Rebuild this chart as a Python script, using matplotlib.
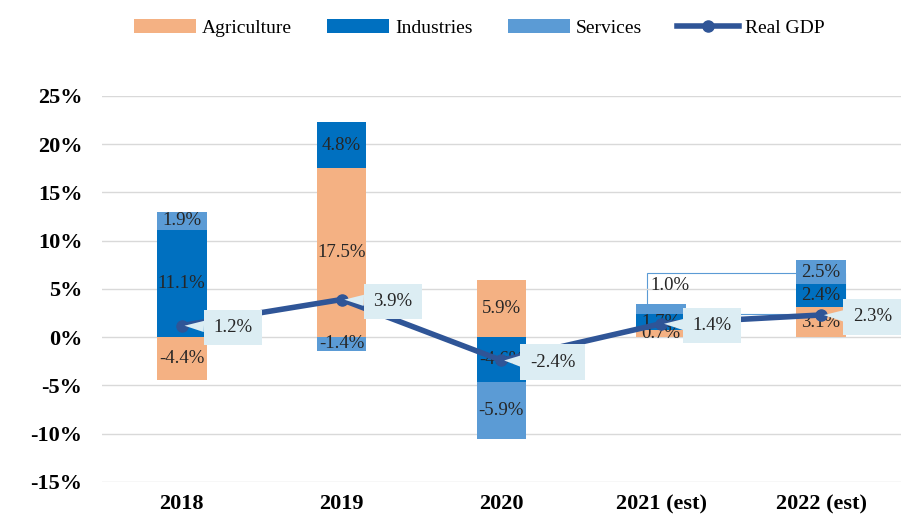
import matplotlib.pyplot as plt
import numpy as np
from matplotlib.patches import Rectangle

# Growth contributions by sector (%)
years = ['2018', '2019', '2020', '2021 (est)', '2022 (est)']
agriculture = [-4.4, 17.5, 5.9, 0.7, 3.1]
industries = [11.1, 4.8, -4.6, 1.7, 2.4]
services = [1.9, -1.4, -5.9, 1.0, 2.5]
real_gdp = [1.2, 3.9, -2.4, 1.4, 2.3]

plt.rcParams['font.family'] = ['Liberation Serif', 'DejaVu Serif']

fig = plt.figure(figsize=(9.01, 5.18), dpi=100)
ax = fig.add_axes([0.113, 0.0695, 0.887, 0.7455])

x = np.arange(len(years))
w = 0.31
series = [
    ('Agriculture', agriculture, '#f4b183'),
    ('Industries', industries, '#0070c0'),
    ('Services', services, '#5b9bd5'),
]

pos = np.zeros(len(years))
neg = np.zeros(len(years))
for name, vals, col in series:
    vals = np.array(vals)
    bottom = np.where(vals >= 0, pos, neg)
    ax.bar(x, vals, w, bottom=bottom, color=col, label=name, zorder=2)
    for i, v in enumerate(vals):
        if name == 'Services' and i == 3:
            continue
        ax.text(x[i], bottom[i] + v / 2, f'{v:.1f}%', ha='center', va='center',
                fontsize=13.5, color='#262626', zorder=3)
    pos = np.where(vals >= 0, pos + vals, pos)
    neg = np.where(vals < 0, neg + vals, neg)

# callout for the small 2021 services segment
top21 = pos[3]
ax.add_patch(Rectangle((x[3] - 0.09, top21 - services[3]), 1.24, 6.6 - top21 + services[3],
                       fill=False, ec='#5b9bd5', lw=0.8, zorder=1.5, clip_on=False))
ax.text(x[3] - 0.07, 5.4, f'{services[3]:.1f}%', ha='left', va='center',
        fontsize=13.5, color='#262626', zorder=3)

ax.plot(x, real_gdp, color='#2f5597', lw=4, marker='o', ms=8, label='Real GDP', zorder=4)
for i, v in enumerate(real_gdp):
    ax.annotate(f'{v:.1f}%', xy=(x[i], v), xytext=(x[i] + 0.32, v - 0.2),
                ha='center', va='center', fontsize=13.5, color='#262626', zorder=5,
                bbox=dict(boxstyle='square,pad=0.5', fc='#dcedf3', ec='none'),
                arrowprops=dict(arrowstyle='wedge,tail_width=0.6', fc='#dcedf3',
                                ec='none', shrinkA=0, shrinkB=2))

ax.set_xlim(-0.5, 4.5)
ax.set_ylim(-15, 25)
ax.set_yticks(np.arange(-15, 26, 5))
ax.set_yticklabels([f'{t}%' for t in range(-15, 26, 5)])
ax.set_xticks(x)
ax.set_xticklabels(years)
for lab in ax.get_xticklabels() + ax.get_yticklabels():
    lab.set_fontweight('bold')
    lab.set_fontsize(16)
ax.tick_params(length=0, pad=14)
ax.tick_params(axis='x', pad=9)
ax.grid(axis='y', color='#d9d9d9', lw=1, zorder=0)
for s in ax.spines.values():
    s.set_visible(False)

handles, labels = ax.get_legend_handles_labels()
order = [1, 2, 3, 0]
fig.legend([handles[k] for k in order], [labels[k] for k in order],
           loc='center', bbox_to_anchor=(0.532, 0.946), ncol=4, frameon=False,
           fontsize=14, handlelength=3.2, handleheight=0.7, columnspacing=1.8,
           handletextpad=0.3)

fig.savefig('out.png', dpi=100)
